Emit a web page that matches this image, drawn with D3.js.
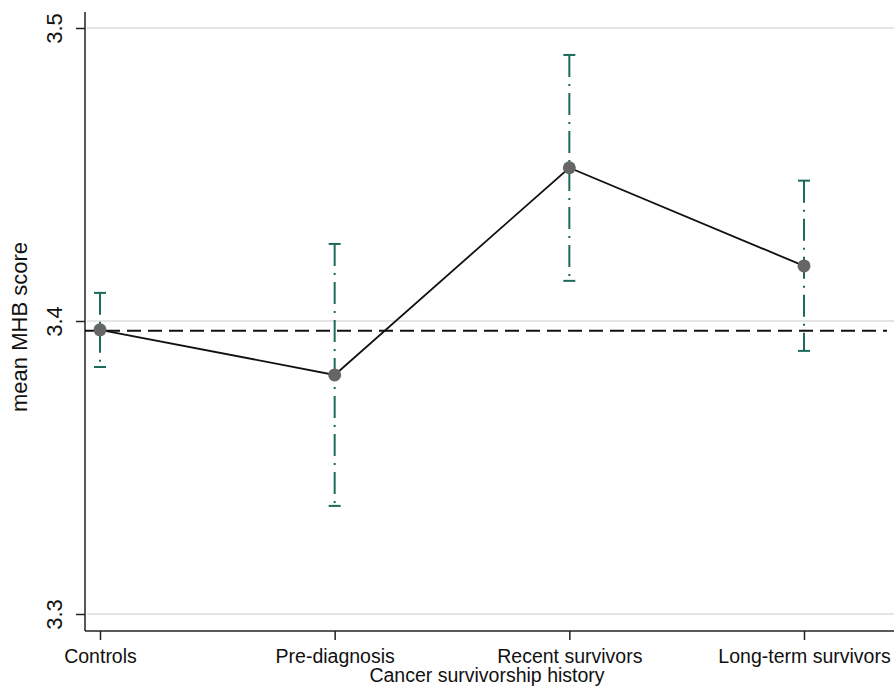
<!DOCTYPE html>
<html><head><meta charset="utf-8">
<script src="https://cdn.jsdelivr.net/npm/d3@7"></script>
<style>body{margin:0;background:#fff}svg{display:block}text{font-family:"Liberation Sans",Arial,sans-serif;fill:#111}</style>
</head><body><svg id="c" width="894" height="692"></svg>
<script>
const categories = ["Controls","Pre-diagnosis","Recent survivors","Long-term survivors"];
const means = [3.397, 3.3816, 3.4523, 3.4188];
const lower = [3.3843, 3.3369, 3.4137, 3.3898];
const upper = [3.4096, 3.4263, 3.4908, 3.4479];
const refLine = 3.3967;
const yTicks = [3.3, 3.4, 3.5];
const yTickLabels = ["3.3","3.4","3.5"];

const svg = d3.select("#c");
const axX = 85, axBottom = 631, axTop = 12, right = 894;
const x = d3.scalePoint().domain(categories).range([100, 804]);
const y = d3.scaleLinear().domain([3.3, 3.5]).range([614, 28]);

// grid
svg.append("g").selectAll("line").data(yTicks).join("line")
  .attr("x1", axX+2).attr("x2", right).attr("y1", d=>y(d)).attr("y2", d=>y(d))
  .attr("stroke", "#dcdcdc").attr("stroke-width", 1.5);

// y axis
const ya = svg.append("g").attr("transform", `translate(${axX},0)`)
  .call(d3.axisLeft(y).tickValues(yTicks).tickSize(9).tickFormat((d,i)=>yTickLabels[i]));
ya.select(".domain").remove();
ya.selectAll(".tick line").attr("stroke", "#222").attr("stroke-width", 1.5);
ya.selectAll(".tick text").attr("transform", "rotate(-90)").attr("x", 0).attr("y", -31)
  .attr("dy", "0.35em").attr("text-anchor", "middle").style("font-size", "22px");
svg.append("line").attr("x1", axX).attr("x2", axX).attr("y1", axTop).attr("y2", axBottom)
  .attr("stroke", "#222").attr("stroke-width", 1.5);

// x axis
const xa = svg.append("g").attr("transform", `translate(0,${axBottom})`)
  .call(d3.axisBottom(x).tickSize(9));
xa.select(".domain").remove();
xa.selectAll(".tick line").attr("stroke", "#222").attr("stroke-width", 1.5);
xa.selectAll(".tick text").attr("y", 18).style("font-size", "19.5px");
svg.append("line").attr("x1", axX).attr("x2", right).attr("y1", axBottom).attr("y2", axBottom)
  .attr("stroke", "#222").attr("stroke-width", 1.5);

// axis titles
svg.append("text").attr("transform", `translate(27,327) rotate(-90)`)
  .attr("text-anchor", "middle").style("font-size", "22px").text("mean MHB score");
svg.append("text").attr("x", 487).attr("y", 682).attr("text-anchor", "middle")
  .style("font-size", "19.5px").text("Cancer survivorship history");

// reference dashed line
svg.append("line").attr("x1", axX).attr("x2", 887).attr("y1", y(refLine)).attr("y2", y(refLine))
  .attr("stroke", "#111").attr("stroke-width", 2).attr("stroke-dasharray", "14,7");

// error bars
const teal = "#1d6a5c";
const eb = svg.append("g").selectAll("g").data(categories).join("g");
eb.append("line").attr("x1", d=>x(d)).attr("x2", d=>x(d))
  .attr("y1", (d,i)=>y(upper[i])).attr("y2", (d,i)=>y(lower[i]))
  .attr("stroke", teal).attr("stroke-width", 2).attr("stroke-dasharray", "22,7,2,7");
eb.append("line").attr("x1", d=>x(d)-6).attr("x2", d=>x(d)+6)
  .attr("y1", (d,i)=>y(upper[i])).attr("y2", (d,i)=>y(upper[i]))
  .attr("stroke", teal).attr("stroke-width", 2);
eb.append("line").attr("x1", d=>x(d)-6).attr("x2", d=>x(d)+6)
  .attr("y1", (d,i)=>y(lower[i])).attr("y2", (d,i)=>y(lower[i]))
  .attr("stroke", teal).attr("stroke-width", 2);

// mean line
svg.append("path").datum(categories)
  .attr("d", d3.line().x(d=>x(d)).y((d,i)=>y(means[i])))
  .attr("fill", "none").attr("stroke", "#111").attr("stroke-width", 1.8);

svg.append("g").selectAll("circle").data(categories).join("circle")
  .attr("cx", d=>x(d)).attr("cy", (d,i)=>y(means[i])).attr("r", 6.5).attr("fill", "#666");
</script></body></html>
